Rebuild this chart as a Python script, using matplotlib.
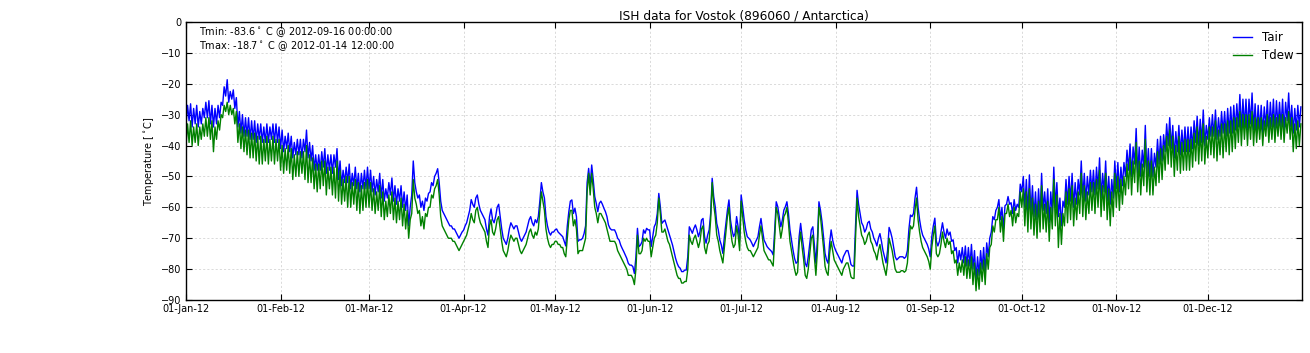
import numpy as np
import pandas as pd
import matplotlib
matplotlib.use('Agg')
import matplotlib.pyplot as plt
import matplotlib.dates as mdates

# Vostok 2012, values every 12 h (00:00, 12:00)
tair_jan = [-33, -27, -32, -26.5, -34, -28, -33, -27, -34, -29,
            -33, -28, -31, -26, -31, -25.5, -33, -27, -34, -28,
            -33, -27, -31, -26, -27, -21, -24, -18.7, -26, -22.5,
            -25, -22, -28, -24.5, -34, -29, -36, -30, -37, -31,
            -37, -31, -38, -32, -38, -32, -39, -33, -38, -33,
            -39, -34, -39, -33, -39, -34, -38, -33, -39, -33,
            -39, -34]
tdew_jan = [-40, -33, -39, -32, -40, -34, -39, -33, -40, -34,
            -38, -33, -37, -31, -37, -31, -38, -32, -42, -34,
            -38, -32, -35, -30, -31, -27, -29, -26, -30, -27,
            -30, -28, -33, -29, -39, -33, -41, -34, -42, -35,
            -43, -35, -44, -36, -44, -36, -45, -37, -46, -37,
            -46, -38, -45, -37, -46, -38, -45, -37, -46, -38,
            -45, -38]

tair_feb = [-41, -35, -42, -37, -41, -36, -42, -37, -44, -39,
            -43, -38, -43, -38, -44, -38, -42, -35, -44, -39,
            -45, -40, -48, -43, -48, -43, -48, -42, -47, -41,
            -49, -43, -48, -43, -49, -43, -47, -41, -51, -45,
            -53, -48, -52, -47, -52, -46, -54, -49, -53, -47,
            -54, -49, -55, -49, -54, -48, -54, -47]
tdew_feb = [-48, -40, -49, -41, -48, -40, -49, -41, -51, -43,
            -50, -42, -50, -42, -49, -42, -51, -40, -52, -43,
            -52, -44, -54, -46, -55, -46, -54, -45, -53, -45,
            -56, -47, -54, -47, -56, -47, -57, -45, -58, -48,
            -59, -51, -58, -50, -60, -50, -60, -52, -59, -51,
            -61, -52, -62, -53, -61, -52, -60, -51]

tair_mar = [-54, -48, -55, -50, -56, -51, -55, -49, -57, -51,
            -58, -54, -57, -52, -56, -50.5, -58, -53, -59, -54,
            -58, -53, -60, -55, -61, -56, -66, -60, -56, -45,
            -52, -55, -57, -56, -60, -58, -61, -57, -58, -55.5,
            -55, -52, -53, -50, -49, -47.5, -52, -58, -61, -62,
            -63, -64, -65, -66, -66, -67, -67, -68, -69, -70,
            -69, -68]
tdew_mar = [-60, -52, -61, -54, -62, -55, -61, -53, -63, -55,
            -64, -58, -63, -56, -62, -55, -64, -57, -65, -58,
            -64, -57, -66, -59, -67, -61, -70, -64, -62, -51,
            -57, -59, -62, -61, -66, -63, -67, -62, -63, -60,
            -60, -56, -57, -54, -53, -51, -56, -63, -66, -67,
            -68, -69, -70, -70, -70, -71, -71, -72, -73, -74,
            -73, -72]

tair_apr = [-67.4, -66, -65, -63, -61, -57.5, -59, -60, -57, -56,
            -59, -61, -62, -63, -64, -67, -69, -63, -60.5, -64,
            -65, -63, -60, -59, -63, -67, -70, -71, -72, -70,
            -67, -65, -66, -67, -66, -66, -68, -70, -71, -70,
            -69, -68, -66, -64, -63, -65, -66, -64, -65, -63,
            -58, -52, -55, -57, -63, -66, -68, -69, -68, -68]
tdew_apr = [-71, -70, -69, -67, -65, -62, -64, -65, -61, -60,
            -63, -65, -66, -67, -68, -71, -73, -66, -64, -68,
            -69, -67, -64, -63, -67, -71, -74, -75, -76, -74,
            -71, -69, -70, -71, -70, -70, -72, -74, -75, -74,
            -73, -72, -70, -68, -67, -69, -70, -68, -69, -67,
            -61, -55, -58, -61, -67, -70, -72, -73, -72, -72]

tair_may = [-67.3, -67, -68, -68.5, -69, -69.5, -71, -72.5, -66, -61.4,
            -58, -57.6, -62, -60.3, -63, -71, -70.5, -70.5, -70, -68.5,
            -66, -52, -47.4, -53, -46.3, -51, -56.5, -58.7, -61.4, -58.7,
            -58, -59, -60.3, -61.4, -63, -65.7, -66.8, -67.3, -67.3, -67.3,
            -68.4, -70, -70.6, -72.2, -73.3, -74.3, -75.4, -76.5, -78.1, -78.7,
            -78.7, -79.2, -81.4, -76, -66.8, -72.7, -72.2, -71.1, -67.3, -68.4,
            -66.8, -67.3]
tdew_may = [-71, -71, -72, -72, -73, -73, -75, -76, -70, -64,
            -61, -61, -66, -64, -67, -75, -74, -74, -74, -72,
            -70, -55, -49, -56, -49, -54, -60, -62, -65, -62,
            -62, -63, -64, -65, -67, -69, -71, -71, -71, -71,
            -72, -74, -75, -76, -77, -78, -79, -80, -82, -82,
            -82, -83, -85, -80, -69, -75, -75, -74, -70, -71,
            -70, -71]

tair_jun = [-67.3, -72.7, -69.5, -66.3, -65.2, -62, -55.5, -59.8, -65.2, -64.6,
            -64.1, -65.7, -67.3, -69, -70.6, -72.2, -74.3, -76.5, -78.1, -79.2,
            -79.7, -80.8, -80.8, -80.3, -80.3, -76, -66.3, -67.3, -68.4, -66.8,
            -65.7, -67.3, -69.5, -67.9, -64.1, -63.6, -69.5, -71.6, -69, -67.3,
            -62, -50.6, -56.5, -59.8, -65.2, -67.3, -70.6, -72.2, -74.9, -69.5,
            -65.2, -60.9, -57.6, -64.1, -67.3, -69.5, -68.4, -63, -66.3, -70.6]
tdew_jun = [-71, -76, -73, -70, -69, -65, -57, -62, -68, -68,
            -67, -69, -71, -72, -74, -76, -78, -80, -82, -83,
            -83, -84.5, -84.5, -84, -84, -80, -69, -71, -72, -70,
            -69, -71, -73, -71, -67, -66, -73, -75, -72, -71,
            -64, -52, -59, -63, -69, -71, -74, -76, -78, -73,
            -68, -63, -60, -67, -71, -73, -72, -66, -69, -74]

tair_jul = [-56, -59.8, -64.1, -67.3, -69.5, -70, -70.6, -71.6, -72.7, -71.6,
            -70.6, -69.5, -66.3, -63.6, -67.3, -70.6, -71.6, -72.7, -73.3, -73.8,
            -74.3, -75.4, -67.3, -58.2, -59.8, -63, -66.3, -64.1, -60.9, -59.8,
            -58.2, -62, -67.3, -70.6, -73.8, -76.5, -78.1, -77.6, -69.5, -65.2,
            -69.5, -73.3, -78.1, -79.2, -76, -71.6, -67.3, -66.3, -72.2, -78.1,
            -70.6, -58.2, -60.9, -64.6, -69.5, -74.9, -77, -78.1, -71.6, -67.3,
            -70.6, -72.7]
tdew_jul = [-58, -63, -68, -71, -73, -74, -74, -75, -76, -75,
            -74, -73, -69, -66, -70, -74, -75, -76, -77, -77,
            -78, -79, -70, -60, -62, -66, -70, -67, -63, -62,
            -60, -65, -71, -74, -77, -80, -82, -81, -72, -68,
            -73, -77, -82, -83, -80, -75, -70, -69, -76, -82,
            -74, -60, -63, -68, -73, -79, -81, -82, -75, -71,
            -74, -77]

tair_aug = [-74, -75, -76, -77, -78, -76, -75, -74, -74, -76,
            -78.5, -79, -79, -66, -54.5, -59, -62, -65, -66, -68,
            -67, -65, -64.5, -67, -68, -70, -71, -72.5, -70, -68.5,
            -71, -74, -76, -78, -74, -66.5, -68, -70, -73, -76,
            -77, -76.5, -76, -76, -76, -76.5, -76, -74, -67, -62.5,
            -63, -62, -57, -53.5, -60, -64, -67, -69, -70, -71,
            -72, -73.5]
tdew_aug = [-78, -79, -80, -81, -82, -80, -79, -78, -78, -80,
            -82.5, -83, -83, -70, -57, -63, -66, -69, -70, -72,
            -71, -69, -68, -71, -72, -74, -75, -77, -74, -72,
            -75, -78, -80, -82, -78, -70, -72, -74, -77, -80,
            -81, -81, -81, -80.5, -80.5, -81, -80.5, -78, -71, -66,
            -67, -66, -61, -57, -64, -68, -71, -73, -74, -75,
            -76, -77.5]

tair_sep = [-76, -69.5, -66, -63.5, -71, -72.5, -71, -68, -65, -68,
            -70, -67, -69, -68, -71, -70.5, -74, -73, -78, -74,
            -77, -73, -78, -72.5, -79, -73, -79, -72, -80, -74,
            -83.6, -76, -82, -74, -80, -73, -81, -71.5, -76, -70,
            -68, -63, -64, -61, -60, -57.5, -64, -60, -67, -59.5,
            -59, -56.5, -59, -58.5, -62, -57.5, -61, -59, -60, -52.5]
tdew_sep = [-80, -73, -69, -66, -75, -76, -75, -72, -68, -71,
            -73, -70, -72, -71, -75, -74, -78, -77, -82, -78,
            -81, -77, -82, -76, -83, -77, -83, -76, -85, -78,
            -87, -80, -86.5, -78, -84, -77, -85, -75, -80, -73,
            -72, -66, -68, -64, -64, -60, -68, -63, -71, -62,
            -62, -59, -63, -61, -66, -60, -65, -62, -63, -55]

tair_oct = [-55, -50, -60, -51, -62, -49.5, -62, -53, -63, -55,
            -64, -54, -63, -49, -61, -55, -62, -54, -65, -55,
            -62, -47, -60, -52, -63, -57, -66, -58, -60, -51,
            -59, -50, -58, -49, -60, -52, -59, -51, -56, -45,
            -57, -49, -58, -50, -56, -48, -55, -48, -56, -47,
            -54, -44, -57, -49, -55, -45, -58, -50, -59, -51,
            -57, -45]
tdew_oct = [-60, -54, -66, -55, -68, -54, -67, -57, -69, -59,
            -70, -58, -68, -53, -67, -59, -68, -58, -71, -60,
            -67, -51, -66, -56, -73, -62, -72, -62, -66, -55,
            -65, -54, -64, -53, -66, -57, -64, -55, -62, -49,
            -63, -53, -64, -55, -62, -52, -61, -52, -62, -51,
            -60, -48, -63, -53, -61, -49, -64, -54, -66, -55,
            -63, -49]

tair_nov = [-54, -45.5, -55, -47, -53, -45.5, -50, -41.5, -48, -39.5,
            -50, -40.5, -46, -34.5, -49, -40.5, -50, -41.5, -47, -33.5,
            -49, -41, -50, -41, -50, -42.5, -47, -38, -46, -37,
            -45, -36.5, -42, -33, -40, -31, -41, -33.5, -44, -35.5,
            -42, -33.5, -43, -35, -42, -34, -42, -34, -42, -34,
            -41, -32, -39, -30.5, -40, -31.5, -39, -28.5, -40, -33.5]
tdew_nov = [-60, -50, -61, -51, -59, -50, -56, -46, -54, -44,
            -56, -45, -52, -39, -55, -45, -56, -46, -53, -38,
            -55, -45, -56, -45, -56, -47, -53, -42, -52, -41,
            -51, -40, -48, -37, -46, -35, -47, -37, -50, -40,
            -48, -37, -49, -39, -48, -38, -48, -38, -48, -38,
            -47, -36, -45, -34, -46, -35, -45, -33, -46, -37]

tair_dec = [-38, -31, -37, -30, -37, -28.5, -38, -31, -37, -29,
            -36, -29, -37, -28, -36, -27.5, -36, -27, -35, -26.5,
            -34, -23.5, -35, -25, -34, -25, -35, -25, -33, -23,
            -35, -26.5, -36, -27, -35, -27, -36, -27.5, -34, -25.5,
            -35, -26, -34, -25, -35, -25.5, -34, -26, -34, -25,
            -35, -26, -32, -23, -34, -27, -36, -28, -35, -27,
            -34, -27.5]
tdew_dec = [-44, -34, -43, -34, -44, -32, -45, -35, -43, -33,
            -44, -33, -42, -32, -43, -32, -42, -31, -41, -31,
            -39, -29, -40, -30, -38, -30, -40, -30, -38, -29,
            -40, -31, -39, -31, -38, -31, -40, -32, -37, -30,
            -39, -31, -38, -30, -39, -31, -37, -30, -38, -30,
            -39, -31, -36, -29, -38, -31, -42, -33, -41, -32,
            -40, -33]

tair = np.concatenate([tair_jan, tair_feb, tair_mar, tair_apr, tair_may, tair_jun,
                       tair_jul, tair_aug, tair_sep, tair_oct, tair_nov, tair_dec])
tdew = np.concatenate([tdew_jan, tdew_feb, tdew_mar, tdew_apr, tdew_may, tdew_jun,
                       tdew_jul, tdew_aug, tdew_sep, tdew_oct, tdew_nov, tdew_dec])

t_air = pd.date_range('2012-01-01', periods=len(tair), freq='12h')
t_dew = pd.date_range('2012-01-01', periods=len(tdew), freq='12h')

# extremes for the annotation
imin = np.argmin(tair)
imax = np.argmax(tair)
txt_min = 'Tmin: %.1f$^\\circ$ C @ %s' % (tair[imin], t_air[imin].strftime('%Y-%m-%d %H:%M:%S'))
txt_max = 'Tmax: %.1f$^\\circ$ C @ %s' % (tair[imax], t_air[imax].strftime('%Y-%m-%d %H:%M:%S'))

fig = plt.figure(figsize=(13.1, 3.53), dpi=100)
ax = fig.add_axes([0.142, 0.150, 0.852, 0.788])

ax.plot(t_air, tair, '-', color='#0000ff', lw=1.0, label='Tair')
ax.plot(t_dew, tdew, '-', color='#008000', lw=1.0, label='Tdew')

ax.set_ylim(-90, 0)
ax.set_yticks(np.arange(-90, 1, 10))
ax.set_xlim(pd.Timestamp('2012-01-01 00:00'), pd.Timestamp('2012-12-31 22:00'))
ax.xaxis.set_major_locator(mdates.MonthLocator())
ax.xaxis.set_major_formatter(mdates.DateFormatter('%d-%b-%y'))

ax.tick_params(direction='in', top=True, right=True, length=4, labelsize=7, pad=3)
ax.grid(True, color='#d4d4d4', lw=0.6, dashes=(2.5, 2.5))
for s in ax.spines.values():
    s.set_linewidth(1.0)

ax.set_ylabel('Temperature [$^\\circ$C]', fontsize=7)
ax.set_title('ISH data for Vostok (896060 / Antarctica)', fontsize=8.7, pad=2)
ax.text(0.012, 0.962, txt_min, transform=ax.transAxes, fontsize=7, va='center', ha='left')
ax.text(0.012, 0.912, txt_max, transform=ax.transAxes, fontsize=7, va='center', ha='left')
ax.legend(loc='upper right', frameon=False, fontsize=8.5, handlelength=1.6,
          borderaxespad=0.35, labelspacing=0.45)

fig.savefig('out.png', dpi=100)
